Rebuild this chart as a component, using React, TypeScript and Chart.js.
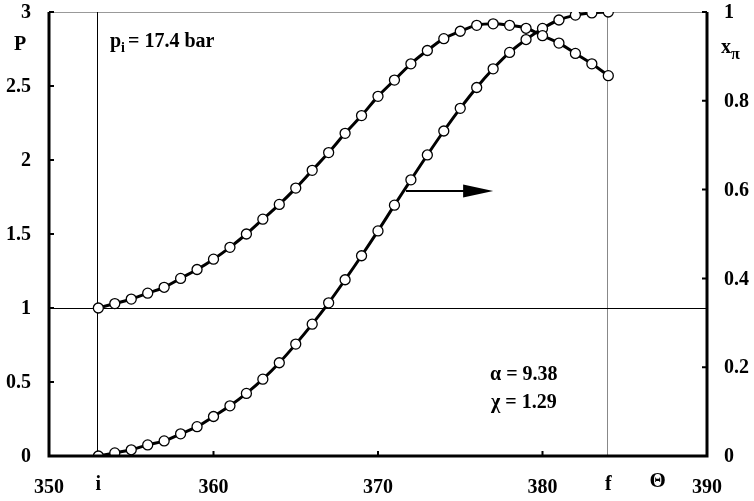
import React, { useEffect, useRef } from "react";
import { Chart, registerables } from "chart.js";

Chart.register(...registerables);

// Crank angle samples (Θ)
const thetaValues = [
  353, 354, 355, 356, 357, 358, 359, 360, 361, 362, 363, 364, 365, 366, 367, 368,
  369, 370, 371, 372, 373, 374, 375, 376, 377, 378, 379, 380, 381, 382, 383, 384,
];
// Normalised pressure P (left axis)
const pressureValues = [
  1.0, 1.03, 1.06, 1.1, 1.14, 1.2, 1.26, 1.33, 1.41, 1.5, 1.6, 1.7, 1.81, 1.93, 2.05, 2.18,
  2.3, 2.43, 2.54, 2.65, 2.74, 2.82, 2.87, 2.91, 2.92, 2.91, 2.89, 2.84, 2.79, 2.72, 2.65, 2.57,
];
// Burned fraction x_π (right axis)
const burnedValues = [
  0, 0.007, 0.014, 0.025, 0.034, 0.05, 0.066, 0.089, 0.113, 0.141, 0.173, 0.21, 0.252, 0.297,
  0.345, 0.397, 0.451, 0.507, 0.565, 0.622, 0.678, 0.732, 0.783, 0.83, 0.872, 0.909, 0.938,
  0.963, 0.982, 0.993, 0.998, 1.0,
];

const xTicks = [350, 360, 370, 380, 390];
const xTickLabels = ["350", "360", "370", "380", "390"];
const leftTicks = [0, 0.5, 1, 1.5, 2, 2.5, 3];
const leftTickLabels = ["0", "0.5", "1", "1.5", "2", "2.5", "3"];
const rightTicks = [0, 0.2, 0.4, 0.6, 0.8, 1];
const rightTickLabels = ["0", "0.2", "0.4", "0.6", "0.8", "1"];

const thetaStart = 353; // "i"
const thetaEnd = 384; // "f"
const thetaLabelPos = 387; // "Θ"
const arrowFrom = 371.7;
const arrowTo = 377;
const arrowLevel = 1.79;

const FONT = '"Liberation Serif", "Times New Roman", serif';

const decorPlugin = {
  id: "decor",
  beforeDatasetsDraw(chart: any) {
    const { ctx, chartArea, scales } = chart;
    const x = scales.x;
    const y = scales.y;
    ctx.save();
    // top gray border
    ctx.strokeStyle = "#999";
    ctx.lineWidth = 1;
    ctx.beginPath();
    ctx.moveTo(chartArea.left, chartArea.top + 0.5);
    ctx.lineTo(chartArea.right, chartArea.top + 0.5);
    ctx.stroke();
    // vertical line at i
    const xi = Math.round(x.getPixelForValue(thetaStart)) - 0.5;
    ctx.strokeStyle = "#000";
    ctx.beginPath();
    ctx.moveTo(xi, chartArea.top);
    ctx.lineTo(xi, chartArea.bottom);
    ctx.stroke();
    // vertical line at f
    const xf = Math.round(x.getPixelForValue(thetaEnd)) - 0.5;
    ctx.strokeStyle = "#888";
    ctx.beginPath();
    ctx.moveTo(xf, chartArea.top);
    ctx.lineTo(xf, chartArea.bottom);
    ctx.stroke();
    // horizontal line at P = 1
    const y1 = Math.round(y.getPixelForValue(1)) + 0.5;
    ctx.strokeStyle = "#000";
    ctx.beginPath();
    ctx.moveTo(chartArea.left, y1);
    ctx.lineTo(chartArea.right, y1);
    ctx.stroke();
    // arrow
    const ax0 = x.getPixelForValue(arrowFrom);
    const ax1 = x.getPixelForValue(arrowTo);
    const ay = y.getPixelForValue(arrowLevel);
    ctx.lineWidth = 2;
    ctx.beginPath();
    ctx.moveTo(ax0, ay);
    ctx.lineTo(ax1 - 28, ay);
    ctx.stroke();
    ctx.fillStyle = "#000";
    ctx.beginPath();
    ctx.moveTo(ax1, ay);
    ctx.lineTo(ax1 - 30, ay - 6.5);
    ctx.lineTo(ax1 - 30, ay + 6.5);
    ctx.closePath();
    ctx.fill();
    ctx.restore();
  },
  afterDatasetsDraw(chart: any) {
    const { ctx, chartArea, scales } = chart;
    const x = scales.x;
    const y = scales.y;
    const yr = scales.y1;
    ctx.save();
    // axes
    ctx.strokeStyle = "#000";
    ctx.lineWidth = 3;
    ctx.beginPath();
    ctx.moveTo(chartArea.left, chartArea.top);
    ctx.lineTo(chartArea.left, chartArea.bottom);
    ctx.lineTo(chartArea.right, chartArea.bottom);
    ctx.lineTo(chartArea.right, chartArea.top);
    ctx.stroke();
    // ticks inward
    ctx.lineWidth = 2;
    ctx.beginPath();
    xTicks.forEach((v) => {
      const px = x.getPixelForValue(v);
      ctx.moveTo(px, chartArea.bottom);
      ctx.lineTo(px, chartArea.bottom - 5);
    });
    leftTicks.forEach((v) => {
      const py = y.getPixelForValue(v);
      ctx.moveTo(chartArea.left, py);
      ctx.lineTo(chartArea.left + 5, py);
    });
    rightTicks.forEach((v) => {
      const py = yr.getPixelForValue(v);
      ctx.moveTo(chartArea.right, py);
      ctx.lineTo(chartArea.right - 5, py);
    });
    ctx.stroke();

    ctx.fillStyle = "#000";
    ctx.font = `bold 20px ${FONT}`;
    ctx.textBaseline = "middle";
    // x tick labels
    ctx.textAlign = "center";
    xTicks.forEach((v, i) => {
      ctx.fillText(xTickLabels[i], x.getPixelForValue(v), 488);
    });
    ctx.fillText("i", x.getPixelForValue(thetaStart), 485);
    ctx.fillText("f", x.getPixelForValue(thetaEnd), 485);
    ctx.font = `bold 21px ${FONT}`;
    ctx.fillText("Θ", x.getPixelForValue(thetaLabelPos), 482);
    ctx.font = `bold 20px ${FONT}`;
    // left labels
    ctx.textAlign = "right";
    leftTicks.forEach((v, i) => {
      ctx.fillText(leftTickLabels[i], 31, y.getPixelForValue(v) + 1);
    });
    // right labels
    ctx.textAlign = "left";
    rightTicks.forEach((v, i) => {
      ctx.fillText(rightTickLabels[i], 724, yr.getPixelForValue(v) + 1);
    });
    // axis titles
    ctx.textAlign = "center";
    ctx.fillText("P", 20, 45);
    ctx.textAlign = "left";
    ctx.fillText("x", 721, 48);
    ctx.font = `bold 16px ${FONT}`;
    ctx.fillText("π", 731, 55);
    // annotations
    ctx.font = `bold 20px ${FONT}`;
    ctx.fillText("p", 110, 42);
    ctx.font = `bold 14px ${FONT}`;
    ctx.fillText("i", 121, 48);
    ctx.font = `bold 20px ${FONT}`;
    ctx.fillText("= 17.4 bar", 128, 42);
    ctx.fillText("α = 9.38", 490, 375);
    ctx.fillText("χ = 1.29", 491, 403);
    ctx.restore();
  },
};

export default function App() {
  const canvasRef = useRef<HTMLCanvasElement | null>(null);

  useEffect(() => {
    if (!canvasRef.current) return;
    const pData = thetaValues.map((t, i) => ({ x: t, y: pressureValues[i] }));
    const bData = thetaValues.map((t, i) => ({ x: t, y: burnedValues[i] }));
    const common = {
      borderColor: "#000",
      borderWidth: 3,
      tension: 0.4,
      pointRadius: 5,
      pointBackgroundColor: "#fff",
      pointBorderColor: "#000",
      pointBorderWidth: 1.3,
    };
    const chart = new Chart(canvasRef.current, {
      type: "line",
      data: {
        datasets: [
          { label: "P", data: pData, yAxisID: "y", ...common },
          { label: "xπ", data: bData, yAxisID: "y1", ...common },
        ],
      },
      options: {
        animation: false,
        responsive: true,
        maintainAspectRatio: false,
        layout: { padding: { left: 49, right: 47, top: 12, bottom: 45 } },
        plugins: { legend: { display: false }, tooltip: { enabled: false } },
        scales: {
          x: { type: "linear", min: 350, max: 390, display: false },
          y: { type: "linear", min: 0, max: 3, display: false, position: "left" },
          y1: { type: "linear", min: 0, max: 1, display: false, position: "right" },
        },
      },
      plugins: [decorPlugin],
    });
    return () => chart.destroy();
  }, []);

  return (
    <div style={{ position: "absolute", left: 0, top: 0, width: 754, height: 501, background: "#fff" }}>
      <canvas ref={canvasRef} />
    </div>
  );
}
